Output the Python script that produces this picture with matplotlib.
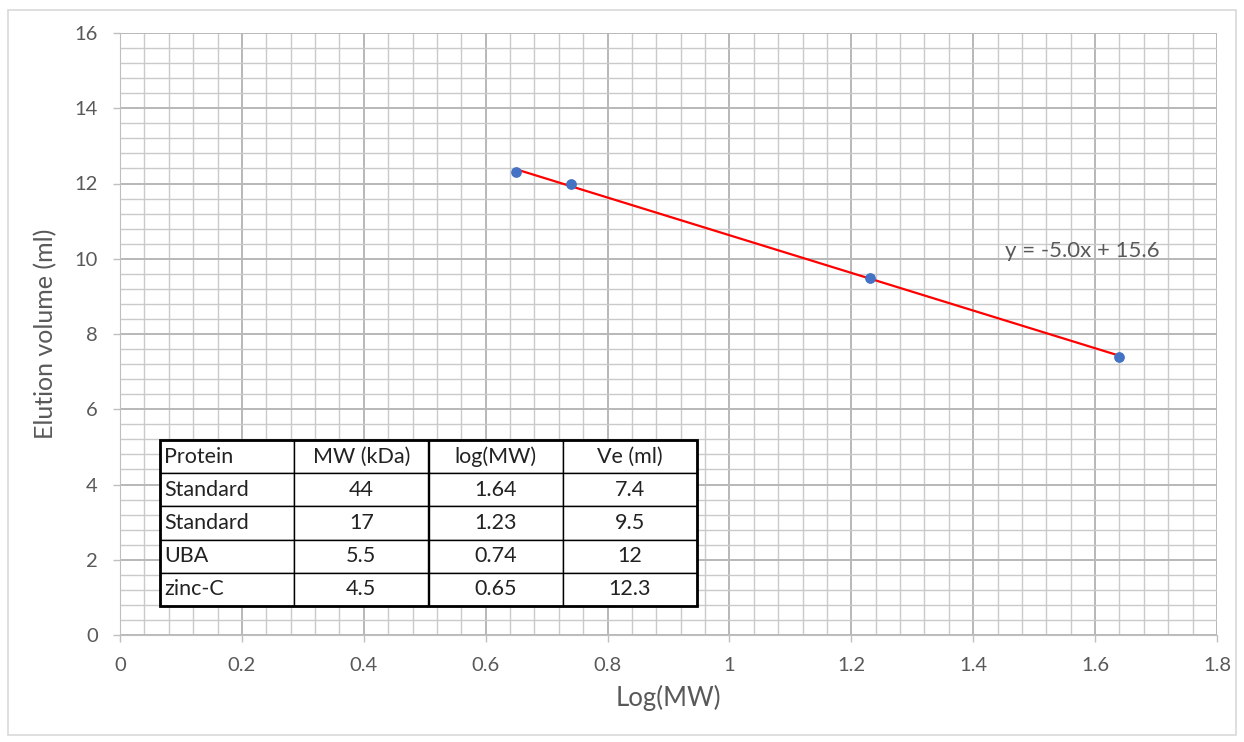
import numpy as np
import matplotlib.pyplot as plt
from matplotlib.ticker import MultipleLocator, FuncFormatter
from matplotlib.patches import Rectangle

# data from the calibration table
proteins = ['Standard', 'Standard', 'UBA', 'zinc-C']
mw_kda = ['44', '17', '5.5', '4.5']
log_mw = [1.64, 1.23, 0.74, 0.65]
ve_ml = [7.4, 9.5, 12, 12.3]
col_labels = ['Protein', 'MW (kDa)', 'log(MW)', 'Ve (ml)']

plt.rcParams['font.family'] = ['Lato', 'DejaVu Sans']

fig = plt.figure(figsize=(12.44, 7.42), dpi=100)
ax = fig.add_axes([120/1244, 1-635/742, 1097/1244, 602/742])

# outer chart frame
fig.patches.append(Rectangle((8/1244, 1-735/742), 1228/1244, 725/742,
                             transform=fig.transFigure, fill=False,
                             edgecolor='#d9d9d9', lw=1.2, zorder=0))

ax.set_xlim(0, 1.8)
ax.set_ylim(0, 16)
ax.xaxis.set_major_locator(MultipleLocator(0.2))
ax.xaxis.set_minor_locator(MultipleLocator(0.04))
ax.yaxis.set_major_locator(MultipleLocator(2))
ax.yaxis.set_minor_locator(MultipleLocator(0.4))
ax.grid(which='major', color='#b8b8b8', lw=1.4)
ax.grid(which='minor', color='#cacaca', lw=1.0)
ax.set_axisbelow(True)

fmt = FuncFormatter(lambda v, p: ('%g' % round(v, 2)))
ax.xaxis.set_major_formatter(fmt)
ax.yaxis.set_major_formatter(fmt)
ax.tick_params(which='major', labelsize=14.5, colors='#595959', length=5,
               width=1, color='#bfbfbf', pad=11)
ax.tick_params(which='minor', length=0)
for s in ['top', 'right']:
    ax.spines[s].set_visible(False)
for s in ['left', 'bottom']:
    ax.spines[s].set_color('#bfbfbf')

# points and linear fit
ax.scatter(log_mw, ve_ml, s=45, color='#4472C4', zorder=4)
slope, icpt = np.polyfit(log_mw, ve_ml, 1)
xs = np.array([min(log_mw), max(log_mw)])
ax.plot(xs, slope*xs + icpt, color='#ff0000', lw=1.6, zorder=3)
ax.text(1.452, 10.2, 'y = %.1fx + %.1f' % (slope, icpt), fontsize=16,
        color='#595959', va='center', ha='left')

ax.set_xlabel('Log(MW)', fontsize=18.5, color='#595959', labelpad=8)
ax.set_ylabel('Elution volume (ml)', fontsize=18, color='#595959', labelpad=12)

# table
cells = [[p, m, '%g' % l, '%g' % v] for p, m, l, v in zip(proteins, mw_kda, log_mw, ve_ml)]
tb = ax.table(cellText=cells, colLabels=col_labels,
              bbox=[40/1097, 29/602, 537/1097, 166/602], cellLoc='center', zorder=5)
tb.auto_set_font_size(False)
for (r, c), cell in tb.get_celld().items():
    cell.set_facecolor('white')
    cell.set_edgecolor('black')
    cell.set_linewidth(1.0)
    cell.get_text().set_fontsize(15.5)
    cell.get_text().set_color('#222222')
    if c == 0:
        cell.get_text().set_ha('left')
        cell.PAD = 0.03
# thicker outer border
ax.add_patch(Rectangle((40/1097, 29/602), 537/1097, 166/602, transform=ax.transAxes,
                       fill=False, edgecolor='black', lw=2.0, zorder=6))

fig.savefig('out.png', dpi=100)
